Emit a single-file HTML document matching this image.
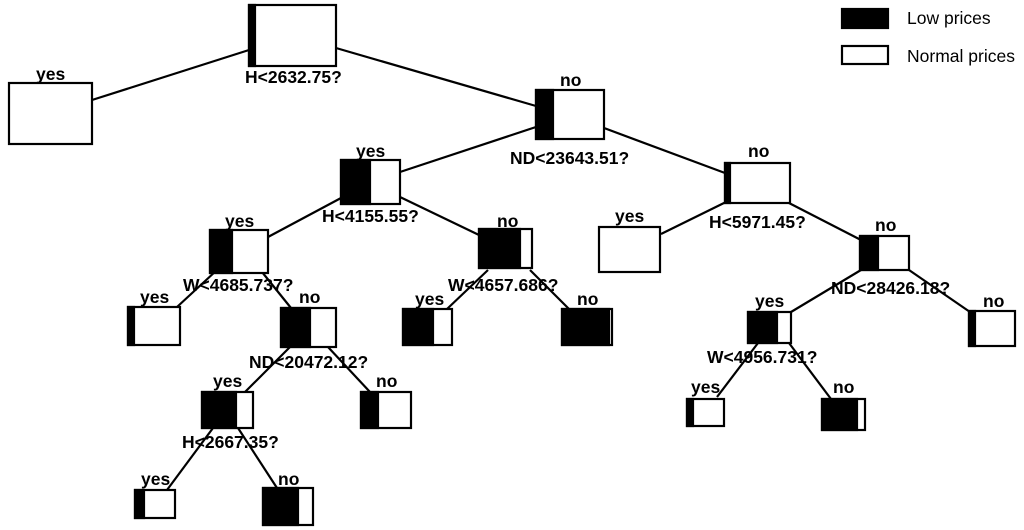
<!DOCTYPE html>
<html><head><style>body{margin:0;background:#fff}svg{display:block}</style></head><body>
<svg width="1024" height="530" xmlns="http://www.w3.org/2000/svg">
<g stroke="#000" stroke-width="2.2" fill="none">
<line x1="249" y1="50" x2="92" y2="100"/>
<line x1="336" y1="48" x2="536" y2="106"/>
<line x1="536" y1="127" x2="400" y2="172"/>
<line x1="604" y1="128" x2="725" y2="173"/>
<line x1="341" y1="198" x2="268" y2="237"/>
<line x1="400" y1="197" x2="479" y2="235"/>
<line x1="726" y1="202" x2="661" y2="234"/>
<line x1="789" y1="203" x2="861" y2="240"/>
<line x1="861" y1="270" x2="791" y2="312"/>
<line x1="909" y1="270" x2="970" y2="312"/>
<line x1="758" y1="343" x2="717" y2="397"/>
<line x1="789" y1="343" x2="831" y2="399"/>
<line x1="217" y1="270" x2="177" y2="307"/>
<line x1="262" y1="272" x2="291" y2="308"/>
<line x1="488" y1="270" x2="447" y2="309"/>
<line x1="530" y1="270" x2="570" y2="310"/>
<line x1="290" y1="347" x2="245" y2="392"/>
<line x1="328" y1="347" x2="370" y2="392"/>
<line x1="213" y1="428" x2="167" y2="490"/>
<line x1="238" y1="428" x2="277" y2="488"/>
</g>
<g stroke="#000" stroke-width="2.2">
<rect x="249" y="5" width="87" height="61" fill="#fff"/><rect x="249" y="5" width="6" height="61" fill="#000"/>
<rect x="9" y="83" width="83" height="61" fill="#fff"/>
<rect x="536" y="90" width="68" height="49" fill="#fff"/><rect x="536" y="90" width="17" height="49" fill="#000"/>
<rect x="341" y="160" width="59" height="44" fill="#fff"/><rect x="341" y="160" width="29" height="44" fill="#000"/>
<rect x="210" y="230" width="58" height="43" fill="#fff"/><rect x="210" y="230" width="22" height="43" fill="#000"/>
<rect x="479" y="229" width="53" height="39" fill="#fff"/><rect x="479" y="229" width="41" height="39" fill="#000"/>
<rect x="725" y="163" width="65" height="40" fill="#fff"/><rect x="725" y="163" width="5" height="40" fill="#000"/>
<rect x="599" y="227" width="61" height="45" fill="#fff"/>
<rect x="860" y="236" width="49" height="34" fill="#fff"/><rect x="860" y="236" width="18" height="34" fill="#000"/>
<rect x="969" y="311" width="46" height="35" fill="#fff"/><rect x="969" y="311" width="6" height="35" fill="#000"/>
<rect x="748" y="312" width="43" height="31" fill="#fff"/><rect x="748" y="312" width="29" height="31" fill="#000"/>
<rect x="687" y="399" width="37" height="27" fill="#fff"/><rect x="687" y="399" width="6" height="27" fill="#000"/>
<rect x="822" y="399" width="43" height="31" fill="#fff"/><rect x="822" y="399" width="35" height="31" fill="#000"/>
<rect x="128" y="307" width="52" height="38" fill="#fff"/><rect x="128" y="307" width="6" height="38" fill="#000"/>
<rect x="281" y="308" width="55" height="39" fill="#fff"/><rect x="281" y="308" width="29" height="39" fill="#000"/>
<rect x="202" y="392" width="51" height="36" fill="#fff"/><rect x="202" y="392" width="34" height="36" fill="#000"/>
<rect x="361" y="392" width="50" height="36" fill="#fff"/><rect x="361" y="392" width="17" height="36" fill="#000"/>
<rect x="135" y="490" width="40" height="28" fill="#fff"/><rect x="135" y="490" width="9" height="28" fill="#000"/>
<rect x="263" y="488" width="50" height="37" fill="#fff"/><rect x="263" y="488" width="35" height="37" fill="#000"/>
<rect x="403" y="309" width="49" height="36" fill="#fff"/><rect x="403" y="309" width="30" height="36" fill="#000"/>
<rect x="562" y="309" width="50" height="36" fill="#fff"/><rect x="562" y="309" width="47" height="36" fill="#000"/>
<rect x="842" y="9" width="46" height="19" fill="#000"/>
<rect x="842" y="46" width="46" height="18" fill="#fff"/>
</g>
<g font-family="Liberation Sans, sans-serif" font-weight="bold" font-size="17.5" fill="#000">
<text x="245" y="83">H&lt;2632.75?</text>
<text x="36" y="80">yes</text>
<text x="560" y="86">no</text>
<text x="510" y="164">ND&lt;23643.51?</text>
<text x="356" y="157">yes</text>
<text x="322" y="222">H&lt;4155.55?</text>
<text x="225" y="227">yes</text>
<text x="497" y="227">no</text>
<text x="183" y="291">W&lt;4685.737?</text>
<text x="448" y="291">W&lt;4657.686?</text>
<text x="140" y="303">yes</text>
<text x="299" y="303">no</text>
<text x="415" y="305">yes</text>
<text x="577" y="305">no</text>
<text x="249" y="368">ND&lt;20472.12?</text>
<text x="213" y="387">yes</text>
<text x="376" y="387">no</text>
<text x="182" y="448">H&lt;2667.35?</text>
<text x="141" y="485">yes</text>
<text x="278" y="485">no</text>
<text x="748" y="157">no</text>
<text x="615" y="222">yes</text>
<text x="709" y="228">H&lt;5971.45?</text>
<text x="875" y="231">no</text>
<text x="831" y="294">ND&lt;28426.18?</text>
<text x="755" y="307">yes</text>
<text x="983" y="307">no</text>
<text x="707" y="363">W&lt;4956.731?</text>
<text x="691" y="393">yes</text>
<text x="833" y="393">no</text>
</g>
<g font-family="Liberation Sans, sans-serif" font-size="17.5" fill="#000">
<text x="907" y="24">Low prices</text>
<text x="907" y="62">Normal prices</text>
</g>
</svg>
</body></html>
